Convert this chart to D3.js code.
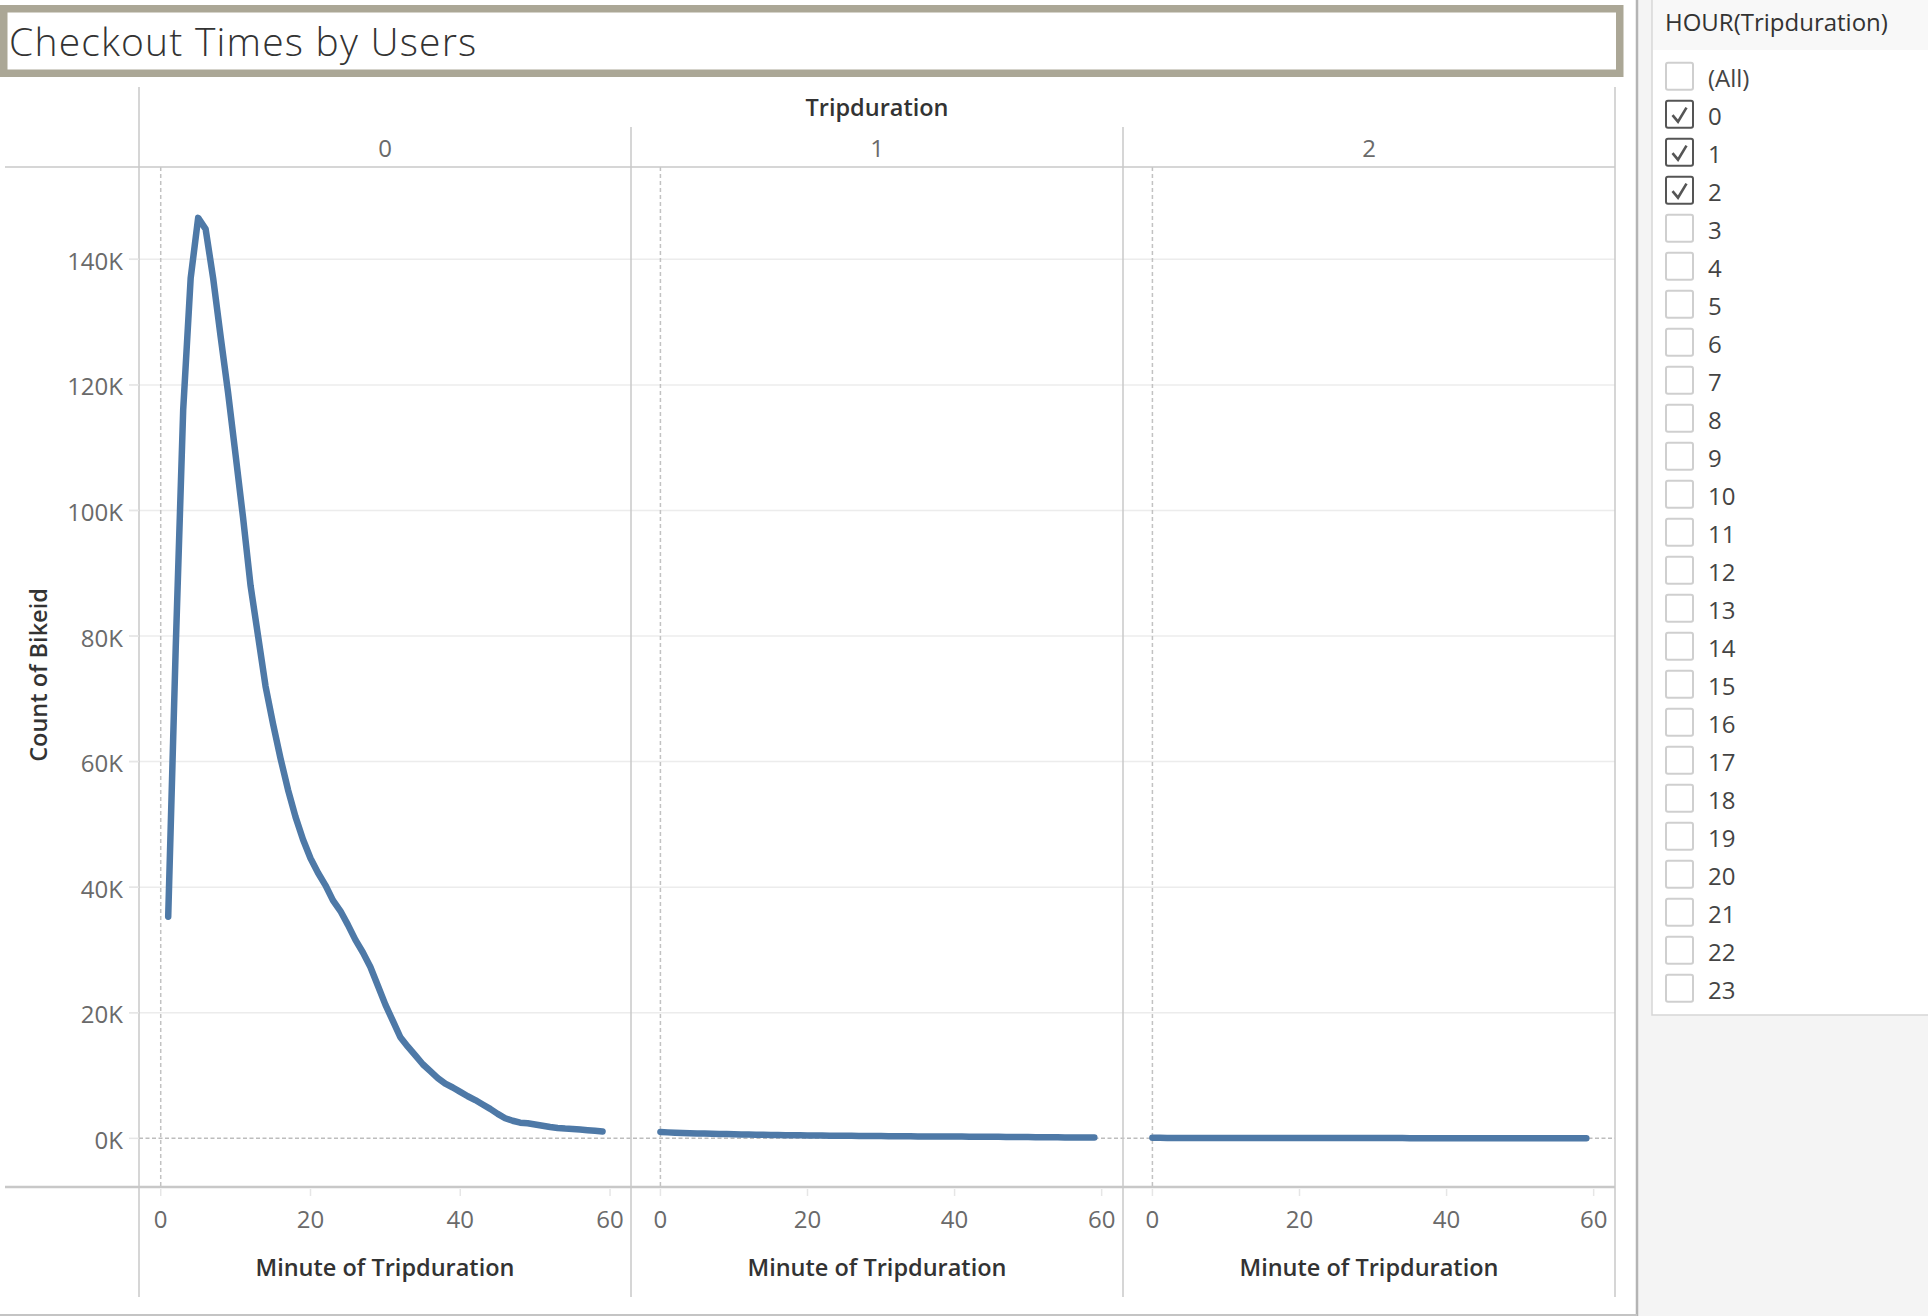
<!DOCTYPE html>
<html>
<head>
<meta charset="utf-8">
<title>Checkout Times by Users</title>
<script src="https://cdn.jsdelivr.net/npm/d3@7"></script>
<style>
  body { margin: 0; background: #fff; }
  svg { display: block; font-family: "Open Sans", Lato, sans-serif; }
</style>
</head>
<body>
<svg id="chart" width="1928" height="1316"></svg>
<script>
// ---- data ----
var hours = ["0", "1", "2"];

// hour 0: minutes 1..59
var minutesHour0 = d3.range(1, 60);
var countsHour0 = [35300, 78000, 116000, 137000, 146600, 144800, 137000, 127700, 118700, 108800,
  98800, 88000, 80000, 72000, 66000, 60500, 55500, 51200, 47600, 44600,
  42300, 40300, 37900, 36200, 34000, 31600, 29600, 27300, 24300, 21300,
  18700, 16100, 14600, 13200, 11800, 10700, 9600, 8700, 8100, 7400,
  6700, 6100, 5400, 4700, 3900, 3200, 2800, 2500, 2400, 2200,
  2000, 1800, 1650, 1550, 1500, 1400, 1300, 1200, 1100];

// hour 1: minutes 0..59
var minutesHour1 = d3.range(0, 60);
var countsHour1 = [1020, 950, 900, 860, 820, 790, 760, 730, 700, 680,
  650, 630, 610, 590, 570, 550, 530, 510, 495, 480,
  465, 450, 440, 430, 420, 410, 400, 390, 375, 365,
  355, 345, 335, 325, 315, 305, 300, 295, 290, 285,
  280, 275, 270, 265, 260, 250, 240, 230, 220, 210,
  200, 190, 180, 170, 160, 150, 145, 140, 130, 120];

// hour 2: minutes 0..59
var minutesHour2 = d3.range(0, 60);
var countsHour2 = [80, 76, 72, 70, 68, 66, 64, 62, 60, 58,
  57, 56, 55, 54, 53, 52, 51, 50, 49, 48,
  47, 46, 45, 44, 43, 42, 41, 40, 40, 39,
  38, 37, 36, 35, 35, 34, 33, 32, 32, 31,
  30, 30, 29, 28, 28, 27, 26, 26, 25, 25,
  24, 24, 23, 23, 22, 22, 21, 21, 20, 20];

var xTicks = [0, 20, 40, 60];
var yTicks = [0, 20000, 40000, 60000, 80000, 100000, 120000, 140000];
var xDomains = [[-2.9, 62.8], [-4.0, 62.9], [-4.0, 62.9]];
var yDomain = [-7750, 154700];

var filterItems = ["(All)"].concat(d3.range(0, 24).map(String));
var filterChecked = ["0", "1", "2"];

var series = [
  minutesHour0.map(function(m, i) { return {m: m, v: countsHour0[i]}; }),
  minutesHour1.map(function(m, i) { return {m: m, v: countsHour1[i]}; }),
  minutesHour2.map(function(m, i) { return {m: m, v: countsHour2[i]}; })
];

// ---- layout ----
var svg = d3.select("#chart");
var left = 139, right = 1615;
var plotTop = 167, plotBottom = 1187;
var headTop = 87, panelHeadTop = 127, frameBottom = 1297;
var panelW = (right - left) / 3;
var lineCol = "#c8c8c8";
var blue = "#4e79a7";
var fs = 24, fsBold = 23.5;

var y = d3.scaleLinear().domain(yDomain).range([plotBottom, plotTop]);

// title box
svg.append("rect")
  .attr("x", 3.75).attr("y", 8.75).attr("width", 1616).attr("height", 64.5)
  .attr("fill", "#fff").attr("stroke", "#aba796").attr("stroke-width", 7.5);
svg.append("text")
  .attr("x", 9).attr("y", 56)
  .attr("font-size", 39).attr("font-weight", 300).attr("fill", "#333")
  .attr("letter-spacing", 1.2)
  .text("Checkout Times by Users");

// gridlines
svg.append("g").selectAll("line")
  .data(yTicks.filter(function(d) { return d > 0; }))
  .join("line")
  .attr("x1", 129).attr("x2", right)
  .attr("y1", function(d) { return y(d); }).attr("y2", function(d) { return y(d); })
  .attr("stroke", "#ececec").attr("stroke-width", 1.5);

// y tick labels
svg.append("g").selectAll("text")
  .data(yTicks)
  .join("text")
  .attr("x", 123).attr("y", function(d) { return y(d) + 1; })
  .attr("text-anchor", "end").attr("dominant-baseline", "central")
  .attr("font-size", fs).attr("fill", "#6a6a6a")
  .text(function(d) { return (d / 1000) + "K"; });

// y title
svg.append("text")
  .attr("transform", "translate(47,675) rotate(-90)")
  .attr("text-anchor", "middle")
  .attr("font-size", fsBold).attr("font-weight", 600).attr("fill", "#333")
  .text("Count of Bikeid");

// header
svg.append("text")
  .attr("x", (left + right) / 2).attr("y", 116)
  .attr("text-anchor", "middle")
  .attr("font-size", fsBold).attr("font-weight", 600).attr("fill", "#333")
  .text("Tripduration");

// zero line
svg.append("line")
  .attr("x1", left).attr("x2", right).attr("y1", y(0)).attr("y2", y(0))
  .attr("stroke", "#bdbdbd").attr("stroke-width", 1.5).attr("stroke-dasharray", "4,2.5");

hours.forEach(function(h, i) {
  var x0 = left + i * panelW, x1 = x0 + panelW;
  var x = d3.scaleLinear().domain(xDomains[i]).range([x0, x1]);
  var g = svg.append("g");

  g.append("text")
    .attr("x", (x0 + x1) / 2).attr("y", 157)
    .attr("text-anchor", "middle")
    .attr("font-size", fs).attr("fill", "#6a6a6a")
    .text(h);

  // dashed line at minute 0
  g.append("line")
    .attr("x1", x(0)).attr("x2", x(0)).attr("y1", plotTop).attr("y2", plotBottom)
    .attr("stroke", "#c2c2c2").attr("stroke-width", 1.5).attr("stroke-dasharray", "4,3");

  // x ticks
  g.selectAll("line.tick")
    .data(xTicks)
    .join("line").attr("class", "tick")
    .attr("x1", function(d) { return x(d); }).attr("x2", function(d) { return x(d); })
    .attr("y1", plotBottom + 2).attr("y2", plotBottom + 9)
    .attr("stroke", "#e6e6e6").attr("stroke-width", 1.5);
  g.selectAll("text.tick")
    .data(xTicks)
    .join("text").attr("class", "tick")
    .attr("x", function(d) { return x(d); }).attr("y", 1228)
    .attr("text-anchor", "middle")
    .attr("font-size", fs).attr("fill", "#6a6a6a")
    .text(function(d) { return d; });

  g.append("text")
    .attr("x", (x0 + x1) / 2).attr("y", 1276)
    .attr("text-anchor", "middle")
    .attr("font-size", fsBold).attr("font-weight", 600).attr("fill", "#333")
    .text("Minute of Tripduration");

  var line = d3.line()
    .x(function(d) { return x(d.m); })
    .y(function(d) { return y(d.v); });
  g.append("path")
    .datum(series[i])
    .attr("d", line)
    .attr("fill", "none").attr("stroke", blue)
    .attr("stroke-width", 6.5)
    .attr("stroke-linejoin", "round").attr("stroke-linecap", "round");
});

// frame lines
var frame = svg.append("g").attr("stroke", lineCol).attr("fill", "none");
frame.append("line").attr("x1", 5).attr("x2", right).attr("y1", plotTop).attr("y2", plotTop).attr("stroke-width", 1.5);
frame.append("line").attr("x1", 5).attr("x2", right).attr("y1", plotBottom).attr("y2", plotBottom).attr("stroke-width", 2.5);
frame.append("line").attr("x1", left).attr("x2", left).attr("y1", headTop).attr("y2", frameBottom).attr("stroke-width", 1.5);
frame.append("line").attr("x1", right).attr("x2", right).attr("y1", headTop).attr("y2", frameBottom).attr("stroke-width", 1.5);
[1, 2].forEach(function(k) {
  var xx = left + k * panelW;
  frame.append("line").attr("x1", xx).attr("x2", xx).attr("y1", panelHeadTop).attr("y2", frameBottom).attr("stroke-width", 1.5);
});
// y tick stubs
frame.selectAll("line.ystub")
  .data(yTicks)
  .join("line").attr("class", "ystub")
  .attr("x1", 129).attr("x2", left)
  .attr("y1", function(d) { return y(d); }).attr("y2", function(d) { return y(d); })
  .attr("stroke", "#e6e6e6").attr("stroke-width", 1.5);

// dashboard edges
svg.append("rect").attr("x", 1638).attr("y", 0).attr("width", 290).attr("height", 1316).attr("fill", "#f4f4f4");
svg.append("line").attr("x1", 1637).attr("x2", 1637).attr("y1", 0).attr("y2", 1316)
  .attr("stroke", "#b4b4b4").attr("stroke-width", 2.5);
svg.append("line").attr("x1", 0).attr("x2", 1637).attr("y1", 1315).attr("y2", 1315)
  .attr("stroke", "#c4c4c4").attr("stroke-width", 2);

// filter card
var fx = 1652;
svg.append("rect").attr("x", fx).attr("y", -2).attr("width", 290).attr("height", 1017)
  .attr("fill", "#fff").attr("stroke", "#d6d6d6").attr("stroke-width", 1.5);
svg.append("rect").attr("x", fx + 1).attr("y", 0).attr("width", 280).attr("height", 50)
  .attr("fill", "#f8f8f8");
svg.append("text")
  .attr("x", 1665).attr("y", 31)
  .attr("font-size", fs).attr("fill", "#333")
  .text("HOUR(Tripduration)");

var rowY = d3.scaleLinear().domain([0, 1]).range([61.7, 99.7]);
var rows = svg.append("g").selectAll("g")
  .data(filterItems)
  .join("g")
  .attr("transform", function(d, i) { return "translate(1665," + rowY(i) + ")"; });
rows.append("rect")
  .attr("x", 1).attr("y", 1).attr("width", 27).attr("height", 27).attr("rx", 2)
  .attr("fill", "#fff")
  .attr("stroke", function(d) { return filterChecked.indexOf(d) >= 0 ? "#555" : "#cfcfcf"; })
  .attr("stroke-width", 2);
rows.filter(function(d) { return filterChecked.indexOf(d) >= 0; })
  .append("path")
  .attr("d", "M7.5,15.5 L13,22 L21.5,8")
  .attr("fill", "none").attr("stroke", "#555").attr("stroke-width", 2.6);
rows.append("text")
  .attr("x", 43).attr("y", 15.5)
  .attr("dominant-baseline", "central")
  .attr("font-size", fs).attr("fill", "#444")
  .text(function(d) { return d; });
</script>
</body>
</html>
